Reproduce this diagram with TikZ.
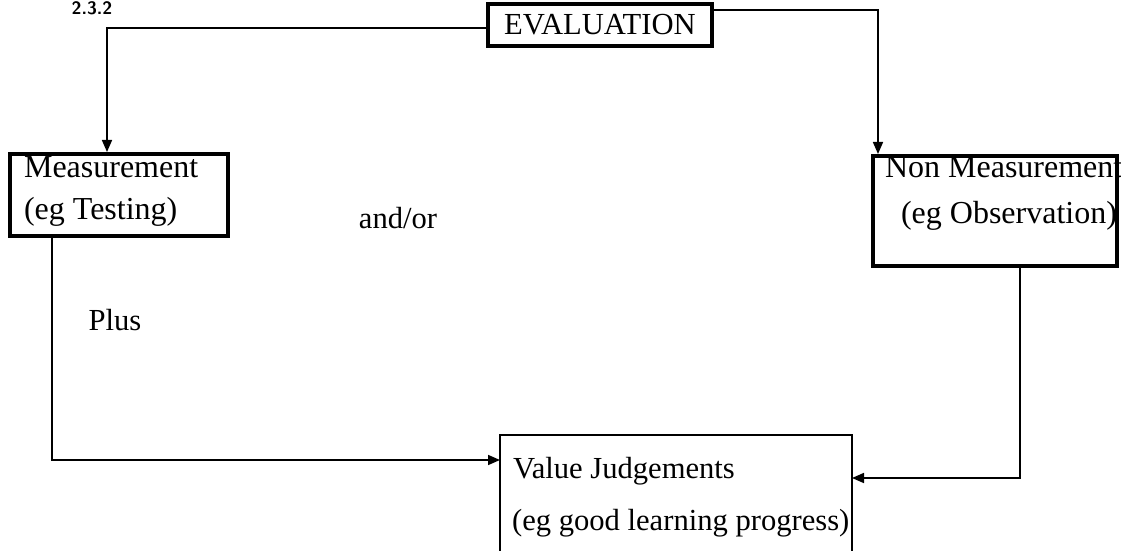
\documentclass[tikz,border=0pt]{standalone}
\usepackage{fontspec}
\setmainfont{Liberation Serif}
\usetikzlibrary{arrows.meta}

\begin{document}
\begin{tikzpicture}[x=0.5pt,y=-0.5pt,
    font=\fontsize{15.3}{21}\selectfont,
    wide/.style={font=\fontsize{16}{21}\selectfont},
    heavybox/.style={draw,line width=2pt,inner sep=0pt},
    link/.style={line width=0.8pt,-{Triangle[length=6pt,width=5pt]}}]
  \useasboundingbox (0,0) rectangle (1121,551);
  \node[font=\sffamily\bfseries\fontsize{9}{10}\selectfont,inner sep=0pt,anchor=north] (num) at (92,1) {2.3.2};
  % boxes
  \node[heavybox,minimum width=112pt,minimum height=21pt] (eval) at (600,25) {EVALUATION};
  \node[heavybox,minimum width=109pt,minimum height=41pt] (meas) at (119,195) {};
    \node[wide,anchor=base west] (measa) at (17,178) {Measurement};
    \node[wide,anchor=base west] (measb) at (17,220) {(eg Testing)};
  \node[heavybox,minimum width=122pt,minimum height=55pt] (nonm) at (995,211) {};
    \node[wide,anchor=base west] (nonma) at (878,178) {Non Measurement};
    \node[wide,anchor=base west] (nonmb) at (894,224) {(eg Observation)};
  % value box, bottom cut off
  \coordinate (vtl) at (500,435);
  \coordinate (vtr) at (852,435);
  \draw[line width=0.8pt] (500,560) -- (vtl) -- (vtr) -- (852,560);
    \node[anchor=base west] (vala) at (506,478) {Value Judgements};
    \node[anchor=base west] (valb) at (505,530) {(eg good learning progress)};
  \node (andor) at (398,218) {and/or};
  \node (plus) at (115,320) {Plus};
  % connectors
  \coordinate (el) at (eval.west |- 0,28);
  \coordinate (er) at (eval.east |- 0,10);
  \draw[link] (el) -| (meas.north -| 107,0);
  \draw[link] (er) -| (nonm.north -| 878,0);
  \coordinate (mb) at (meas.south -| 52,0);
  \coordinate (nb) at (nonm.south -| 1020,0);
  \draw[link] (mb) |- (500,460);
  \draw[link] (nb) |- (852,478);
\end{tikzpicture}
\end{document}
